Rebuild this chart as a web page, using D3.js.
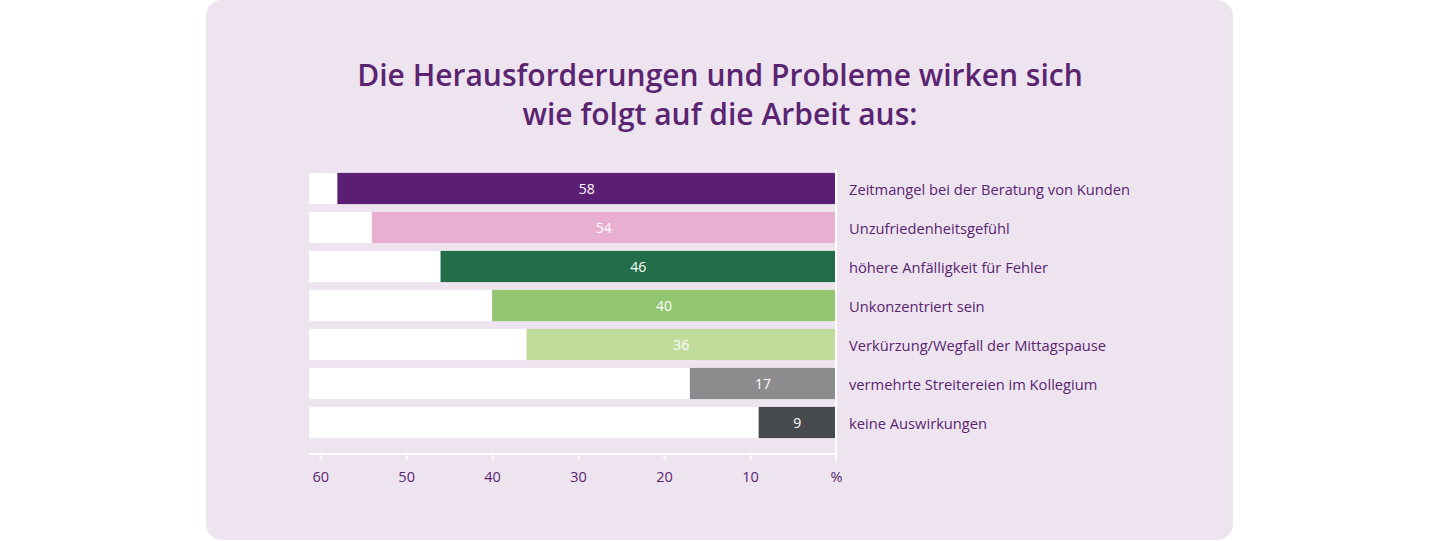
<!DOCTYPE html>
<html>
<head>
<meta charset="utf-8">
<script src="https://cdn.jsdelivr.net/npm/d3@7"></script>
<style>
  html, body { margin: 0; padding: 0; background: #ffffff; overflow: hidden; }
  svg { display: block; overflow: visible; font-family: "Open Sans", Lato, sans-serif; }
</style>
</head>
<body>
<svg width="1440" height="541" viewBox="0 0 1440 541"></svg>
<script>
// values
const categories = [
  "Zeitmangel bei der Beratung von Kunden",
  "Unzufriedenheitsgefühl",
  "höhere Anfälligkeit für Fehler",
  "Unkonzentriert sein",
  "Verkürzung/Wegfall der Mittagspause",
  "vermehrte Streitereien im Kollegium",
  "keine Auswirkungen"
];
const values = [58, 54, 46, 40, 36, 17, 9];
const colors = ["#5c1e73", "#e9afd0", "#216e48", "#92c56f", "#c1dc9a", "#8c8c8e", "#474b4d"];
const tickValues = [60, 50, 40, 30, 20, 10, 0];
const titleLines = [
  "Die Herausforderungen und Probleme wirken sich",
  "wie folgt auf die Arbeit aus:"
];
const axisMax = 61.3;

const data = categories.map((c, i) => ({ cat: c, value: values[i], color: colors[i] }));

const svg = d3.select("svg");
const purple = "#5a2470";

// background panel
svg.append("rect")
  .attr("x", 206).attr("y", 0)
  .attr("width", 1027).attr("height", 540)
  .attr("rx", 16)
  .attr("fill", "#ede4f0");

// title
svg.append("g")
  .selectAll("text")
  .data(titleLines)
  .enter()
  .append("text")
  .attr("x", 720)
  .attr("y", (d, i) => 86 + i * 39)
  .attr("text-anchor", "middle")
  .attr("fill", purple)
  .attr("font-size", 30)
  .attr("font-weight", 600)
  .text((d) => d);

const margin = { top: 169, left: 309 };
const innerWidth = 527;
const innerHeight = 273;

const xScale = d3.scaleLinear()
  .domain([0, axisMax])
  .range([innerWidth, 0]);

const yScale = d3.scaleBand()
  .domain(categories)
  .range([0, innerHeight])
  .paddingInner(0.2)
  .paddingOuter(0.1);

const g = svg.append("g")
  .attr("transform", `translate(${margin.left},${margin.top})`);

// white tracks
g.selectAll(".track")
  .data(data)
  .enter()
  .append("rect")
  .attr("class", "track")
  .attr("x", xScale(axisMax))
  .attr("y", (d) => yScale(d.cat))
  .attr("width", xScale(0) - xScale(axisMax))
  .attr("height", yScale.bandwidth())
  .attr("fill", "#ffffff");

// bars
g.selectAll(".bar")
  .data(data)
  .enter()
  .append("rect")
  .attr("class", "bar")
  .attr("x", (d) => xScale(d.value))
  .attr("y", (d) => yScale(d.cat))
  .attr("width", (d) => xScale(0) - xScale(d.value))
  .attr("height", yScale.bandwidth())
  .attr("fill", (d) => d.color);

// values inside bars
g.selectAll(".val")
  .data(data)
  .enter()
  .append("text")
  .attr("class", "val")
  .attr("x", (d) => (xScale(d.value) + xScale(0)) / 2)
  .attr("y", (d) => yScale(d.cat) + yScale.bandwidth() / 2 + 5)
  .attr("text-anchor", "middle")
  .attr("fill", "#ffffff")
  .attr("font-size", 14)
  .text((d) => d.value);

// category labels
g.selectAll(".cat")
  .data(data)
  .enter()
  .append("text")
  .attr("class", "cat")
  .attr("x", xScale(0) + 13)
  .attr("y", (d) => yScale(d.cat) + yScale.bandwidth() / 2 + 6)
  .attr("fill", purple)
  .attr("font-size", 14.7)
  .text((d) => d.cat);

// vertical zero line
g.append("line")
  .attr("x1", xScale(0)).attr("x2", xScale(0))
  .attr("y1", 0).attr("y2", 292)
  .attr("stroke", "#ffffff")
  .attr("stroke-width", 2);

// x axis
const xAxis = d3.axisBottom(xScale)
  .tickValues(tickValues)
  .tickSize(6)
  .tickPadding(12)
  .tickFormat((d) => (d === 0 ? "%" : d));

const xAxisGroup = g.append("g")
  .attr("class", "x-axis")
  .attr("transform", "translate(0, 285)")
  .call(xAxis);

xAxisGroup.select(".domain")
  .attr("stroke", "#ffffff")
  .attr("stroke-width", 2)
  .attr("d", `M${xScale(axisMax)},0H${xScale(0)}`);

xAxisGroup.selectAll(".tick line")
  .attr("stroke", "#ffffff")
  .attr("stroke-width", 2);

xAxisGroup.selectAll(".tick text")
  .attr("fill", purple)
  .attr("font-size", 14.5)
  .attr("font-family", "'Open Sans', Lato, sans-serif");
</script>
</body>
</html>
